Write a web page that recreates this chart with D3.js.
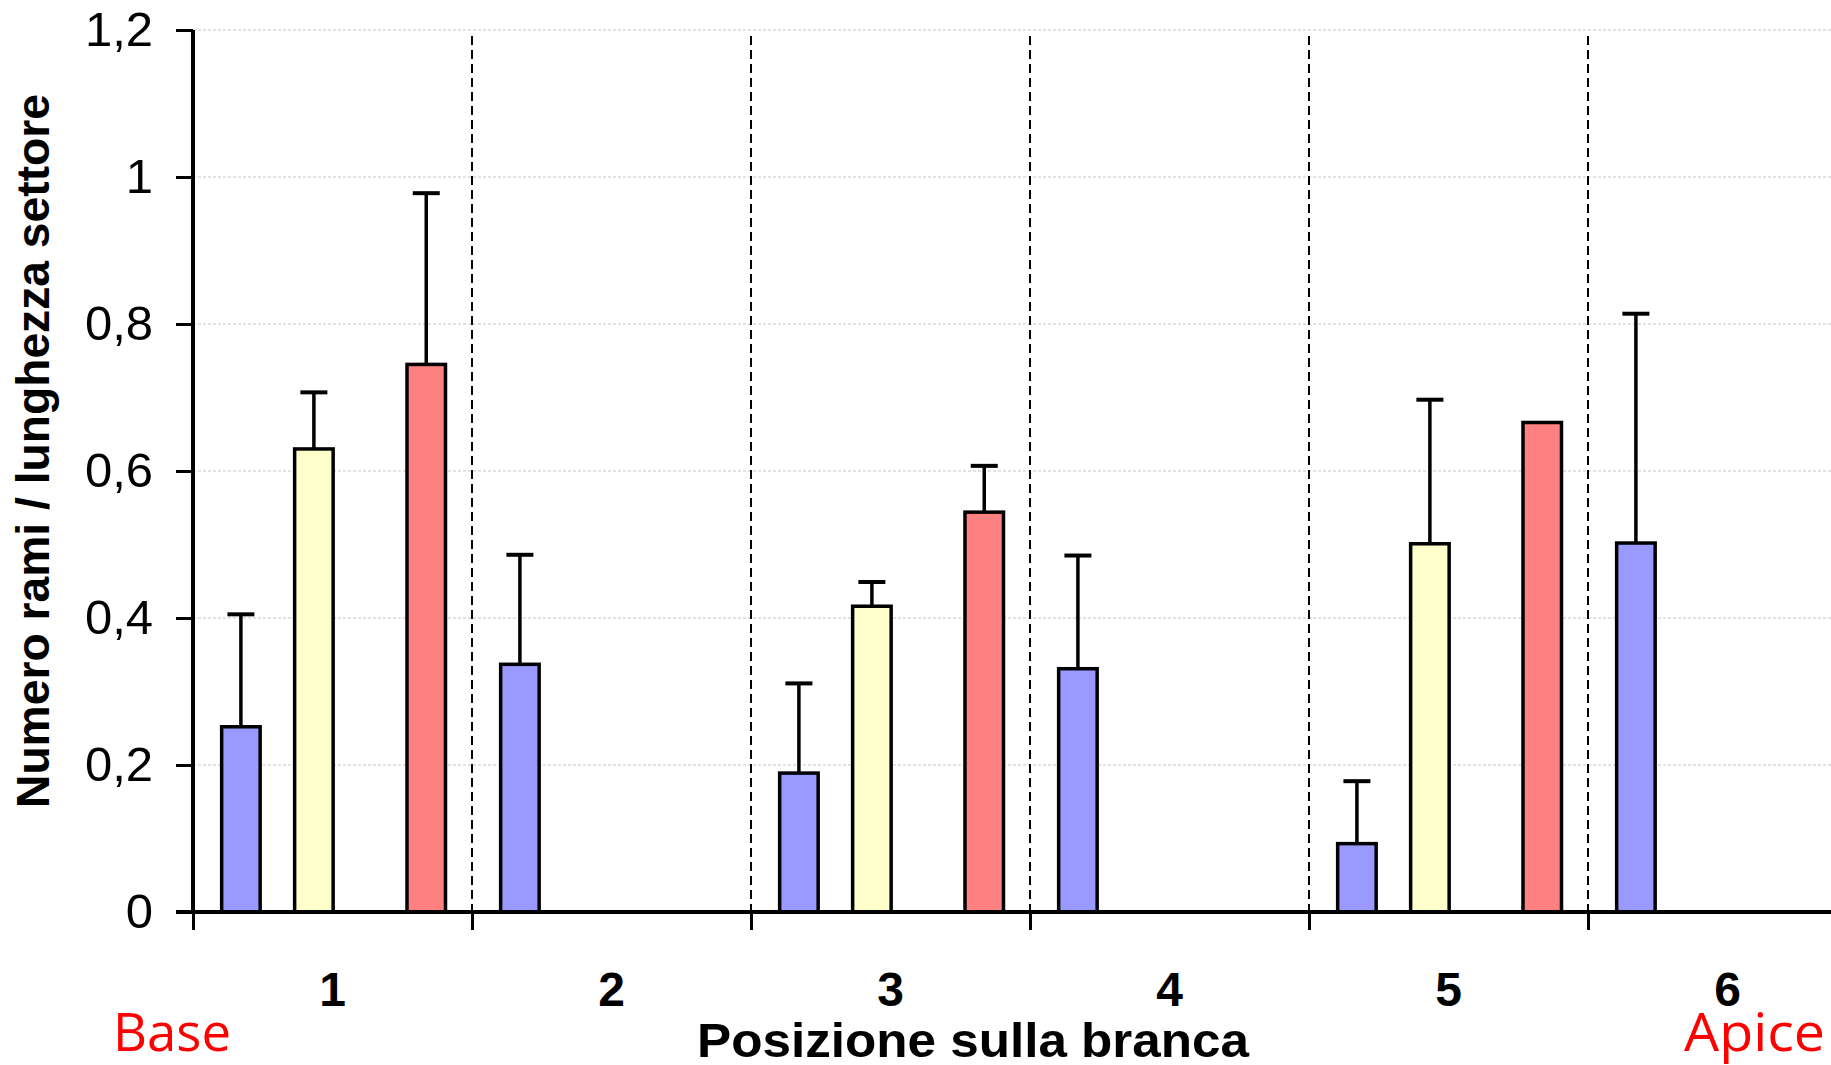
<!DOCTYPE html>
<html>
<head>
<meta charset="utf-8">
<script src="https://cdn.jsdelivr.net/npm/d3@7"></script>
<style>
  html, body { margin: 0; padding: 0; background: #fff; }
  svg { display: block; }
</style>
</head>
<body>
<div id="chart"></div>
<script>
// Posizione sulla branca (1 = base, 6 = apice)
const categories = ['1', '2', '3', '4', '5', '6'];
const seriesNames = ['blu', 'giallo', 'rosso'];

const valuesBlu = [0.252, 0.337, 0.189, 0.331, 0.093, 0.502];
const errBlu = [0.153, 0.149, 0.122, 0.154, 0.085, 0.312];

const valuesGiallo = [0.630, 0, 0.416, 0, 0.501, null];
const errGiallo = [0.077, null, 0.033, null, 0.196, null];

const valuesRosso = [0.745, 0, 0.544, 0, 0.666, null];
const errRosso = [0.233, null, 0.063, null, null, null];

const yTicks = [0, 0.2, 0.4, 0.6, 0.8, 1.0, 1.2];

const W = 1831, H = 1065;
const x0 = 193, band = 279, zeroY = 912, topY = 30;

const svg = d3.select('#chart').append('svg')
  .attr('width', W)
  .attr('height', H);

const x = d3.scaleBand()
  .domain(categories)
  .range([x0, x0 + band * categories.length]);

const xEdge = d3.scaleLinear()
  .domain([0, categories.length])
  .range([x0, x0 + band * categories.length]);

// position of each series inside its band (fraction of band width)
const inner = d3.scaleOrdinal()
  .domain(seriesNames)
  .range([0.1717, 0.4333, 0.836]);
const barW = 0.138 * band;

const colors = d3.scaleOrdinal()
  .domain(seriesNames)
  .range(['#9999ff', '#ffffcc', '#ff8080']);

const y = d3.scaleLinear().domain([0, 1.2]).range([zeroY, topY]);

// gridlines
svg.append('g')
  .selectAll('line')
  .data(yTicks.filter(d => d > 0))
  .join('line')
  .attr('x1', x0).attr('x2', W)
  .attr('y1', d => y(d)).attr('y2', d => y(d))
  .attr('stroke', '#d9d9d9')
  .attr('stroke-width', 1.5)
  .attr('stroke-dasharray', '3,2');

// dashed separators between positions
svg.append('g')
  .selectAll('line')
  .data(d3.range(1, categories.length + 1))
  .join('line')
  .attr('x1', d => xEdge(d)).attr('x2', d => xEdge(d))
  .attr('y1', 36).attr('y2', zeroY)
  .attr('stroke', '#000')
  .attr('stroke-width', 2)
  .attr('stroke-dasharray', '9,5');

const rows = [];
categories.forEach((c, i) => {
  rows.push({ cat: c, s: 'blu', v: valuesBlu[i], e: errBlu[i] });
  rows.push({ cat: c, s: 'giallo', v: valuesGiallo[i], e: errGiallo[i] });
  rows.push({ cat: c, s: 'rosso', v: valuesRosso[i], e: errRosso[i] });
});
const bars = rows.filter(d => d.v !== null);
const cx = d => x(d.cat) + inner(d.s) * band;

// error bars (behind bars)
const errs = bars.filter(d => d.e !== null);
const eg = svg.append('g');
eg.selectAll('line.stem')
  .data(errs)
  .join('line')
  .attr('class', 'stem')
  .attr('x1', cx).attr('x2', cx)
  .attr('y1', d => y(d.v)).attr('y2', d => y(d.v + d.e))
  .attr('stroke', '#000')
  .attr('stroke-width', 3.5);
eg.selectAll('line.cap')
  .data(errs)
  .join('line')
  .attr('class', 'cap')
  .attr('x1', d => cx(d) - 13.5).attr('x2', d => cx(d) + 13.5)
  .attr('y1', d => y(d.v + d.e)).attr('y2', d => y(d.v + d.e))
  .attr('stroke', '#000')
  .attr('stroke-width', 4);

// bars
svg.append('g')
  .selectAll('rect')
  .data(bars)
  .join('rect')
  .attr('x', d => cx(d) - barW / 2)
  .attr('width', barW)
  .attr('y', d => y(d.v))
  .attr('height', d => y(0) - y(d.v))
  .attr('fill', d => colors(d.s))
  .attr('stroke', '#000')
  .attr('stroke-width', 3.5);

// y axis
const yAxis = svg.append('g')
  .attr('transform', `translate(${x0},0)`)
  .call(d3.axisLeft(y)
    .tickValues(yTicks)
    .tickSize(17)
    .tickPadding(23)
    .tickFormat(d => String(+d.toFixed(1)).replace('.', ',')));
yAxis.select('.domain').attr('stroke-width', 4)
  .attr('d', `M0,${topY}V${zeroY + 2}`);
yAxis.selectAll('.tick line').attr('stroke-width', 3);
yAxis.selectAll('.tick text')
  .attr('font-family', '"Liberation Sans", Arial, sans-serif')
  .attr('font-size', 49)
  .attr('fill', '#000');

// x axis: boundary ticks
const xTicks = svg.append('g')
  .attr('transform', `translate(0,${zeroY})`)
  .call(d3.axisBottom(xEdge)
    .tickValues(d3.range(0, categories.length + 1))
    .tickSize(18)
    .tickFormat(''));
xTicks.select('.domain')
  .attr('d', `M${x0 - 17},0H${W}`)
  .attr('stroke-width', 4);
xTicks.selectAll('.tick line').attr('stroke-width', 3);

// x axis: category labels
const xLab = svg.append('g')
  .attr('transform', `translate(0,${zeroY})`)
  .call(d3.axisBottom(x).tickSize(0).tickPadding(60));
xLab.select('.domain').remove();
xLab.selectAll('.tick text')
  .attr('font-family', '"Liberation Sans", Arial, sans-serif')
  .attr('font-weight', 'bold')
  .attr('font-size', 48)
  .attr('fill', '#000');

// axis titles
svg.append('text')
  .attr('x', 973).attr('y', 1057)
  .attr('text-anchor', 'middle')
  .attr('font-family', '"Liberation Sans", Arial, sans-serif')
  .attr('font-weight', 'bold')
  .attr('font-size', 48)
  .attr('textLength', 552)
  .attr('lengthAdjust', 'spacingAndGlyphs')
  .text('Posizione sulla branca');

svg.append('text')
  .attr('transform', 'translate(49,451) rotate(-90)')
  .attr('text-anchor', 'middle')
  .attr('font-family', '"Liberation Sans", Arial, sans-serif')
  .attr('font-weight', 'bold')
  .attr('font-size', 46)
  .attr('textLength', 714)
  .attr('lengthAdjust', 'spacingAndGlyphs')
  .text('Numero rami / lunghezza settore');

// base / apice
svg.append('text')
  .attr('x', 113).attr('y', 1051)
  .attr('font-family', '"Open Sans", "Noto Sans", sans-serif')
  .attr('font-size', 53)
  .attr('fill', '#ff0000')
  .attr('textLength', 118)
  .attr('lengthAdjust', 'spacingAndGlyphs')
  .text('Base');

svg.append('text')
  .attr('x', 1684).attr('y', 1051)
  .attr('font-family', '"Open Sans", "Noto Sans", sans-serif')
  .attr('font-size', 53)
  .attr('fill', '#ff0000')
  .attr('textLength', 141)
  .attr('lengthAdjust', 'spacingAndGlyphs')
  .text('Apice');
</script>
</body>
</html>
